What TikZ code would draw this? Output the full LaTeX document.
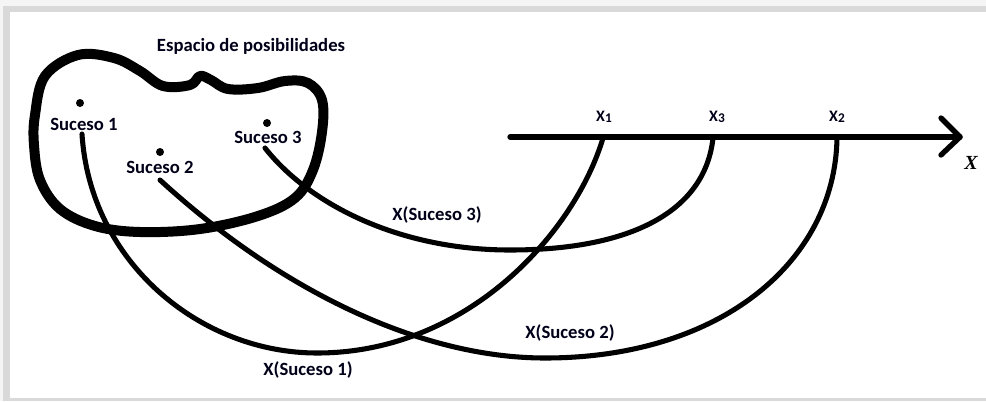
\documentclass[tikz,border=0pt]{standalone}
\usepackage{fontspec}
\setmainfont{Carlito}
\newfontfamily\serifx{Liberation Serif}
\begin{document}
\begin{tikzpicture}[x=0.75pt,y=-0.75pt,
  lbl/.style={font=\fontsize{14}{16}\selectfont\bfseries, inner sep=0pt, text=black!90!blue},
  axlbl/.style={font=\fontsize{12}{14}\selectfont\bfseries, inner sep=0pt, text=black!90!blue},
  curve/.style={line width=3.8pt, line cap=round},
  dot/.style={circle, fill=black, inner sep=0pt, minimum size=6pt}]
\useasboundingbox (0,0) rectangle (986,401);
\fill[black!4] (0,0) rectangle (986,401);
\fill[black!15] (3,6) rectangle (986,401);
\fill[white] (10,12) rectangle (986,398);

% blob
\draw[line width=7.5pt, line join=round] plot[smooth cycle, tension=0.6] coordinates {
 (35,115) (45,76) (78,55) (114,58) (140,71) (163,86) (190,85) (200,76) (211,80) (228,89)
 (258,88) (285,81) (308,83) (322,100) (322,132) (313,170) (295,198) (258,216) (200,229)
 (140,232) (95,226) (60,209) (40,180) (34,145)};

\node[lbl] (title) at (251,46) {Espacio de posibilidades};

\node[dot] (d1) at (80,103) {};
\node[lbl] (s1) at (84,124) {Suceso 1};
\node[dot] (d2) at (160,152) {};
\node[lbl] (s2) at (160,167) {Suceso 2};
\node[dot] (d3) at (267,123) {};
\node[lbl] (s3) at (268,137) {Suceso 3};

% axis
\coordinate (a0) at (510,137);
\coordinate (a1) at (960,137);
\coordinate (x1) at (603,138);
\coordinate (x3) at (713,138);
\coordinate (x2) at (837,138);
\draw[line width=4pt, line cap=round] (a0) -- (a1);
\draw[line width=4pt, line cap=round, line join=round] (941,118) -- (a1) -- (941,155);
\node[axlbl] (lx1) at (604,117) {X\raisebox{-0.15ex}{\fontsize{10}{10}\selectfont 1}};
\node[axlbl] (lx3) at (717,117) {X\raisebox{-0.15ex}{\fontsize{10}{10}\selectfont 3}};
\node[axlbl] (lx2) at (837,117) {X\raisebox{-0.15ex}{\fontsize{10}{10}\selectfont 2}};
\node[inner sep=0pt, font=\serifx\fontsize{15}{16}\selectfont\bfseries\itshape] (X) at (971,163) {X};

% curves
\coordinate (c1) at (82,134);
\coordinate (c2) at (160,180);
\coordinate (c3) at (265,148);
\draw[curve] (c1) .. controls (90,262) and (200,353) .. (317,353)
  .. controls (468,353) and (575,232) .. (x1);
\draw[curve] (c2) .. controls (280,290) and (420,358) .. (545,358)
  .. controls (720,358) and (835,262) .. (x2);
\draw[curve] (c3) .. controls (310,205) and (400,250) .. (510,250)
  .. controls (630,250) and (705,212) .. (x3);

\node[lbl] (l3) at (437,215) {X(Suceso 3)};
\node[lbl] (l2) at (570,333) {X(Suceso 2)};
\node[lbl] (l1) at (308,370) {X(Suceso 1)};
\end{tikzpicture}
\end{document}
